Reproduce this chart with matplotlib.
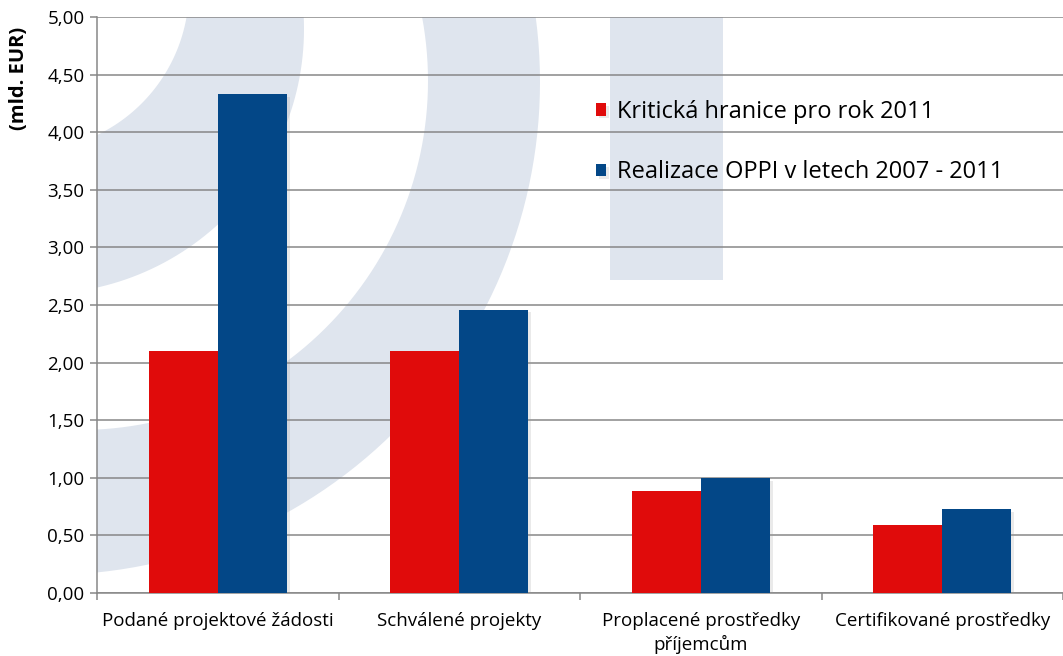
"""Kritická hranice vs. realizace OPPI (mld. EUR)."""
import matplotlib

matplotlib.use("Agg")
import matplotlib.pyplot as plt
import matplotlib.patheffects as pe
import numpy as np
from matplotlib.patches import PathPatch, Rectangle
from matplotlib.path import Path
from matplotlib.transforms import Affine2D

plt.rcParams.update({"font.family": ["Open Sans", "DejaVu Sans"], "font.size": 13.5})

categories = [
    "Podané projektové žádosti",
    "Schválené projekty",
    "Proplacené prostředky\npříjemcům",
    "Certifikované prostředky",
]
kriticka = [2.10, 2.10, 0.885, 0.59]
realizace = [4.33, 2.46, 1.00, 0.725]
series_labels = ["Kritická hranice pro rok 2011", "Realizace OPPI v letech 2007 - 2011"]
yticks = np.arange(0, 5.01, 0.5)

RED = "#e00b0b"
BLUE = "#034787"
GRID = "#878787"
MARK = "#dfe5ee"

W, H = 1063, 656
fig = plt.figure(figsize=(W / 100, H / 100), dpi=100)
ax = fig.add_axes([97 / W, (H - 593) / H, 1 - 97 / W, (593 - 17) / H])

# pixel coords (origin top-left) -> display
px = Affine2D().scale(1 / W, -1 / H).translate(0, 1) + fig.transFigure


def ring(outer_c, outer_r, inner_c, inner_r):
    t = np.linspace(0, 2 * np.pi, 240)
    outer = np.column_stack([outer_c[0] + outer_r * np.cos(t), outer_c[1] + outer_r * np.sin(t)])
    inner = np.column_stack([inner_c[0] + inner_r * np.cos(-t), inner_c[1] + inner_r * np.sin(-t)])
    return Path.make_compound_path(Path(outer, closed=True), Path(inner, closed=True))


# light watermark behind the plot (logo arcs + bar)
for p in [ring((39, 29), 265, (27, -11), 162), ring((47, 82), 493, (79, 81), 349)]:
    patch = PathPatch(p, transform=px, fc=MARK, ec="none", zorder=0)
    ax.add_patch(patch)
    patch.set_clip_path(ax.patch)
rect = Rectangle((610, 17), 113, 263, transform=px, fc=MARK, ec="none", zorder=0)
ax.add_patch(rect)
rect.set_clip_path(ax.patch)

x = np.arange(len(categories))
bw = 0.286
shadow = [pe.SimplePatchShadow(offset=(2, -2), shadow_rgbFace="#999999", alpha=0.2), pe.Normal()]
b1 = ax.bar(x - bw / 2, kriticka, bw, color=RED, zorder=3, label=series_labels[0])
b2 = ax.bar(x + bw / 2, realizace, bw, color=BLUE, zorder=3, label=series_labels[1])
for b in list(b1) + list(b2):
    b.set_path_effects(shadow)

ax.set_ylim(0, 5)
ax.set_xlim(-0.5, -0.5 + 966 / 245)
ax.set_yticks(yticks)
ax.set_yticklabels([f"{v:.2f}".replace(".", ",") for v in yticks])
ax.yaxis.grid(True, color=GRID, lw=1.1, zorder=1)
ax.set_axisbelow(True)

ax.set_xticks(x)
ax.set_xticklabels(categories, linespacing=1.3)
ax.set_xticks(np.arange(-0.5, 4, 1), minor=True)
ax.tick_params(axis="x", which="major", length=0, pad=14)
ax.tick_params(axis="x", which="minor", length=5, width=1.1, color=GRID)
ax.tick_params(axis="y", length=5, width=1.1, color=GRID, pad=4)

for s in ["top", "right"]:
    ax.spines[s].set_visible(False)
for s in ["left", "bottom"]:
    ax.spines[s].set_color(GRID)
    ax.spines[s].set_linewidth(1.1)

fig.text(19 / W, 1 - 78 / H, "(mld. EUR)", rotation=90, ha="center", va="center",
         fontsize=14.5, fontweight="bold")

ax.legend(loc="upper left", bbox_to_anchor=(596 / W, 1 - 100 / H), bbox_transform=fig.transFigure,
          frameon=False, fontsize=17, handlelength=0.42, handleheight=0.42, handletextpad=0.47,
          labelspacing=1.54, borderaxespad=0, borderpad=0)

fig.savefig("out.png", dpi=100)
